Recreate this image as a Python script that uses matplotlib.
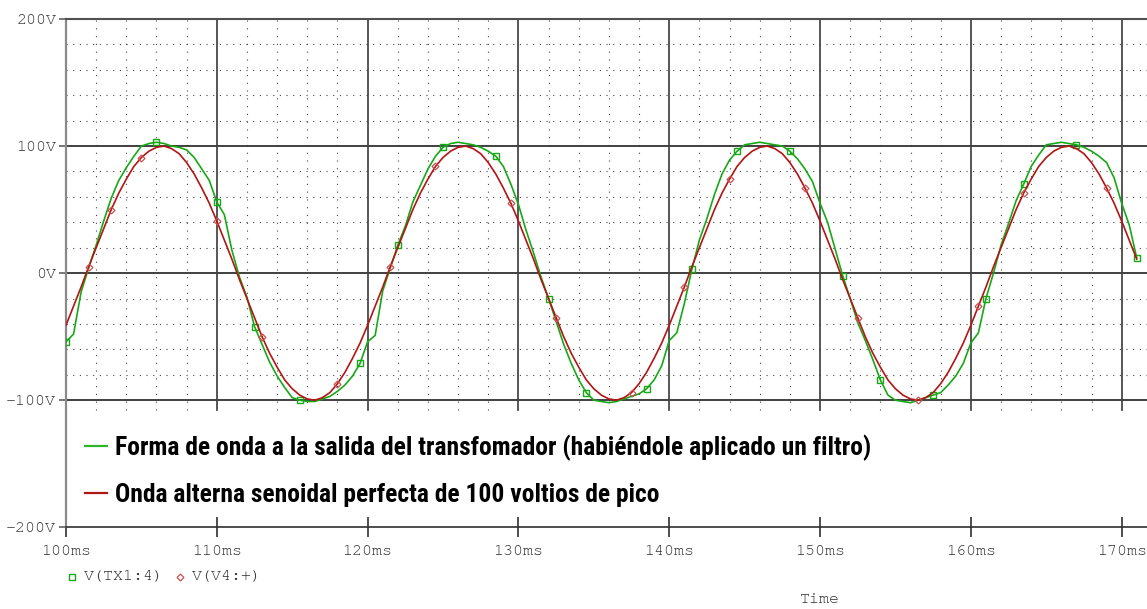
import numpy as np
import matplotlib
matplotlib.use('Agg')
import matplotlib.pyplot as plt

time_ms = np.arange(100.0, 171.01, 0.5)

# V(TX1:4): salida del transformador filtrada (verde)
v_tx1 = [
    -54, -48, -15, 4, 22, 41, 59, 73, 83, 92, 100, 102, 103, 102, 100, 99, 97, 91, 82, 73,
    56, 46, 18, -3, -19, -42, -56, -70, -81, -90, -98, -100, -101, -101, -99, -97, -93, -88, -81, -71,
    -54, -49, -14, 4, 22, 37, 56, 69, 82, 92, 99, 102, 103, 102, 101, 99, 96, 92, 84, 70,
    54, 34, 16, -3, -20, -38, -56, -71, -84, -94, -100, -101, -102, -101, -99, -97, -95, -91, -84, -73,
    -53, -47, -24, 3, 26, 43, 62, 78, 89, 96, 101, 102, 103, 102, 101, 100, 96, 90, 82, 72,
    55, 40, 19, -2, -20, -39, -53, -68, -84, -96, -100, -101, -102, -100, -98, -96, -94, -88, -81, -71,
    -55, -47, -20, 0, 22, 39, 57, 70, 84, 93, 101, 102, 103, 102, 101, 99, 96, 92, 87, 75,
    55, 38, 12,
]

# V(V4:+): senoidal ideal de 100 V de pico (rojo)
v_v4 = [
    -41, -26, -11, 5, 20, 35, 50, 63, 74, 84, 91, 96, 99, 100, 98, 94, 87, 78, 67, 55,
    41, 26, 11, -5, -20, -35, -50, -63, -74, -84, -91, -96, -99, -100, -98, -94, -87, -78, -67, -55,
    -41, -26, -11, 5, 20, 35, 50, 63, 74, 84, 91, 96, 99, 100, 98, 94, 87, 78, 67, 55,
    41, 26, 11, -5, -20, -35, -50, -63, -74, -84, -91, -96, -99, -100, -98, -94, -87, -78, -67, -55,
    -41, -26, -11, 5, 20, 35, 50, 63, 74, 84, 91, 96, 99, 100, 98, 94, 87, 78, 67, 55,
    41, 26, 11, -5, -20, -35, -50, -63, -74, -84, -91, -96, -99, -100, -98, -94, -87, -78, -67, -55,
    -41, -26, -11, 5, 20, 35, 50, 63, 74, 84, 91, 96, 99, 100, 98, 94, 87, 78, 67, 55,
    41, 26, 11,
]

x_ticks = [100, 110, 120, 130, 140, 150, 160, 170]
x_labels = ['100ms', '110ms', '120ms', '130ms', '140ms', '150ms', '160ms', '170ms']
y_ticks = [-200, -100, 0, 100, 200]
y_labels = ['-200V', '-100V', '0V', '100V', '200V']

texto_verde = 'Forma de onda a la salida del transfomador (habiéndole aplicado un filtro)'
texto_rojo = 'Onda alterna senoidal perfecta de 100 voltios de pico'

GREEN = '#17a817'
RED = '#b31414'
MONO = ['TeX Gyre Cursor', 'Liberation Mono', 'DejaVu Sans Mono']
BOLD = ['Roboto Condensed', 'DejaVu Sans']
LBL = '#2e2e2e'
FS = 12

fig = plt.figure(figsize=(11.47, 6.09), dpi=100)
ax = fig.add_axes([66 / 1147, 0.1342, 1 - 66 / 1147, 0.8346])
ax.set_xlim(100, 171.68)
ax.set_ylim(-200, 200)

# rejilla punteada (solo en la zona de las curvas)
yfrac = (-108 + 200) / 400
for x in range(102, 171, 2):
    if x % 10:
        ax.axvline(x, ymin=yfrac, ymax=1, color='#444444', lw=0.8, ls=(0, (1, 6)), zorder=1)
for v in range(-80, 200, 20):
    if v % 100:
        ax.axhline(v, color='#444444', lw=0.8, ls=(0, (1, 5)), zorder=1)
for x in x_ticks[1:]:
    ax.axvline(x, ymin=yfrac, ymax=1, color='#3a3a3a', lw=1.2, zorder=1)
for v in (100, 0, -100):
    ax.axhline(v, color='#404040', lw=1.4, zorder=1)

ax.plot(time_ms, v_tx1, color=GREEN, lw=1.2, zorder=3,
        marker='s', markersize=5, markerfacecolor='none', markeredgecolor=GREEN, markeredgewidth=1,
        markevery=[0, 12, 20, 25, 31, 39, 44, 50, 57, 64, 69, 77, 83, 89, 96, 103, 108, 115, 122, 127, 134, 142])
ax.plot(time_ms, v_v4, color=RED, lw=1.2, zorder=4,
        marker='D', markersize=3.5, markerfacecolor='none', markeredgecolor='#cc5050', markeredgewidth=0.9,
        markevery=[3, 6, 10, 20, 26, 36, 43, 49, 59, 65, 75, 82, 88, 98, 105, 113, 121, 127, 138])

ax.spines['right'].set_visible(False)
ax.spines['left'].set_color('#8a8a8a')
ax.spines['left'].set_linewidth(1.6)
ax.spines['top'].set_color('#505050')
ax.spines['top'].set_linewidth(1.5)
ax.spines['bottom'].set_color('#303030')
ax.spines['bottom'].set_linewidth(1.2)

ax.set_xticks(x_ticks)
ax.set_xticklabels(x_labels, family=MONO, fontsize=FS, color=LBL)
ax.set_yticks(y_ticks)
ax.set_yticklabels(y_labels, family=MONO, fontsize=FS, color=LBL)
ax.tick_params(axis='x', direction='inout', length=14, width=1.2, color='#303030', pad=6)
ax.tick_params(axis='y', direction='out', length=5, width=1.2, color='#606060', pad=2)

# anotaciones dentro del grafico
t1 = ax.text(103.25, -143.5, texto_verde, family=BOLD, fontweight='bold', fontsize=18,
             va='baseline', ha='left', color='black', clip_on=False)
t2 = ax.text(103.25, -180, texto_rojo, family=BOLD, fontweight='bold', fontsize=18,
             va='baseline', ha='left', color='black', clip_on=False)
fig.canvas.draw()
w = t1.get_window_extent(renderer=fig.canvas.get_renderer()).width
fs = 18 * 755 / w
t1.set_fontsize(fs)
t2.set_fontsize(fs)
ax.plot([101.26, 102.72], [-136, -136], color='#2cb52c', lw=1.6, clip_on=False)
ax.plot([101.26, 102.72], [-173, -173], color=RED, lw=1.6, clip_on=False)

# leyenda inferior estilo PSpice
ax.plot([100.38], [-239], marker='s', markersize=5, markerfacecolor='none',
        markeredgecolor=GREEN, markeredgewidth=1, clip_on=False)
ax.text(101.2, -239, 'V(TX1:4)', family=MONO, fontsize=FS, color=LBL, va='center', clip_on=False)
ax.plot([107.56], [-239], marker='D', markersize=3.5, markerfacecolor='none',
        markeredgecolor='#cc5050', markeredgewidth=0.9, clip_on=False)
ax.text(108.35, -239, 'V(V4:+)', family=MONO, fontsize=FS, color=LBL, va='center', clip_on=False)
ax.text(150.0, -257, 'Time', family=MONO, fontsize=FS, color=LBL, ha='center', va='center', clip_on=False)

fig.savefig('out.png', dpi=100)
